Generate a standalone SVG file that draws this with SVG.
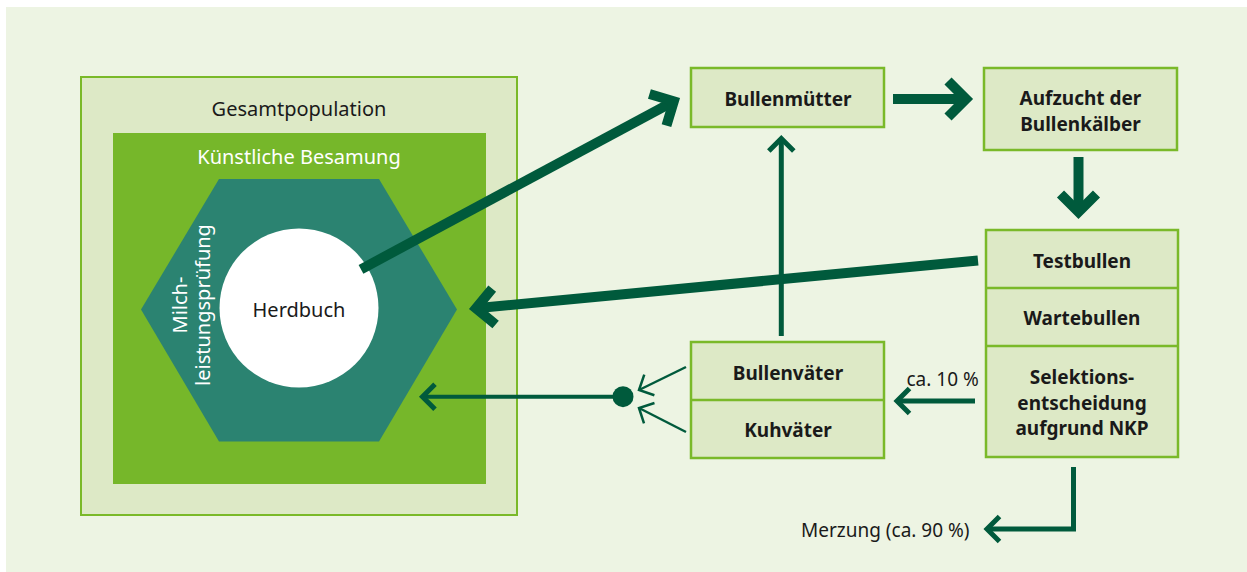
<svg xmlns="http://www.w3.org/2000/svg" width="1247" height="572" viewBox="0 0 1247 572">
  <defs>
    <style>
      .t { font-family: "Noto Sans", "Open Sans", sans-serif; fill: #1a1a1a; }
      .reg { font-size: 20px; }
      .b { font-size: 19px; font-weight: bold; text-anchor: middle; }
      .w { fill: #ffffff; }
      .box { fill: #dde9c6; stroke: #7ab929; stroke-width: 2.5; }
      .div { stroke: #7ab929; stroke-width: 2.5; fill: none; }
      .c { fill: none; stroke: #005a3c; stroke-linejoin: miter; }
      .thick { stroke-width: 10; }
      .med { stroke-width: 5; }
      .thin { stroke-width: 2.5; }
    </style>
    <marker id="ahThick" markerUnits="userSpaceOnUse" markerWidth="60" markerHeight="60" refX="0" refY="0" orient="auto" overflow="visible">
      <path d="M-18,-18 L0,0 L-18,18" fill="none" stroke="#005a3c" stroke-width="10" stroke-linejoin="miter"/>
    </marker>
    <marker id="ahMed" markerUnits="userSpaceOnUse" markerWidth="40" markerHeight="40" refX="0" refY="0" orient="auto" overflow="visible">
      <path d="M-12.5,-12.5 L0,0 L-12.5,12.5" fill="none" stroke="#005a3c" stroke-width="5" stroke-linejoin="miter"/>
    </marker>
    <marker id="ahThin" markerUnits="userSpaceOnUse" markerWidth="40" markerHeight="40" refX="0" refY="0" orient="auto" overflow="visible">
      <path d="M-11.5,-11.5 L0,0 L-11.5,11.5" fill="none" stroke="#005a3c" stroke-width="2.5" stroke-linejoin="miter"/>
    </marker>
  </defs>

  <rect x="6" y="7" width="1241" height="565" fill="#edf4e3"/>

  <g id="gesamtpopulation">
    <rect x="81" y="77" width="436" height="438" fill="#dde9c6" stroke="#7ab929" stroke-width="2"/>
    <text class="t reg" x="299" y="115.5" text-anchor="middle">Gesamtpopulation</text>
  </g>

  <g id="kuenstliche-besamung">
    <rect x="113" y="133" width="373" height="351" fill="#76b72a"/>
    <text class="t reg w" x="299" y="164" text-anchor="middle">Künstliche Besamung</text>
  </g>

  <g id="milchleistungspruefung">
    <polygon points="219,179 379,179 457,309.5 379,441.5 219,441.5 141,309.5" fill="#2b8371"/>
    <text class="t reg w" transform="translate(186.5,305) rotate(-90)" text-anchor="middle">Milch-</text>
    <text class="t reg w" transform="translate(210,305) rotate(-90)" text-anchor="middle">leistungsprüfung</text>
  </g>

  <g id="herdbuch">
    <circle cx="299" cy="308" r="79.5" fill="#ffffff"/>
    <text class="t reg" x="299" y="317" text-anchor="middle">Herdbuch</text>
  </g>

  <g id="bullenmuetter">
    <rect class="box" x="691" y="68" width="193" height="59"/>
    <text class="t b" x="788" y="105.5">Bullenmütter</text>
  </g>

  <g id="aufzucht">
    <rect class="box" x="984" y="68" width="193" height="82"/>
    <text class="t b" x="1080.5" y="104.5">Aufzucht der</text>
    <text class="t b" x="1080.5" y="131">Bullenkälber</text>
  </g>

  <g id="pruefbullen">
    <rect class="box" x="986" y="230" width="192" height="227"/>
    <line class="div" x1="986" y1="288" x2="1178" y2="288"/>
    <line class="div" x1="986" y1="346" x2="1178" y2="346"/>
    <text class="t b" x="1082" y="267.5">Testbullen</text>
    <text class="t b" x="1082" y="324.5">Wartebullen</text>
    <text class="t b" x="1082" y="384">Selektions-</text>
    <text class="t b" x="1082" y="409.5">entscheidung</text>
    <text class="t b" x="1082" y="435">aufgrund NKP</text>
  </g>

  <g id="vaeter">
    <rect class="box" x="691" y="342" width="193" height="116"/>
    <line class="div" x1="691" y1="400" x2="884" y2="400"/>
    <text class="t b" x="788" y="380">Bullenväter</text>
    <text class="t b" x="788" y="437">Kuhväter</text>
  </g>

  <g id="labels">
    <text class="t" font-size="19" x="906.5" y="385.5">ca. 10 %</text>
    <text class="t" font-size="19" x="801" y="537">Merzung (ca. 90 %)</text>
  </g>

  <g id="connectors">
    <line class="c thick" x1="361" y1="269.3" x2="673.8" y2="101.3" marker-end="url(#ahThick)"/>
    <line class="c thick" x1="893" y1="99" x2="966" y2="99" marker-end="url(#ahThick)"/>
    <line class="c thick" x1="1078.5" y1="157" x2="1078.5" y2="212" marker-end="url(#ahThick)"/>
    <line class="c thick" x1="978" y1="260.5" x2="476" y2="308.3" marker-end="url(#ahThick)"/>
    <line class="c med" x1="781.3" y1="336" x2="781.3" y2="138.5" marker-end="url(#ahMed)"/>
    <line class="c med" x1="975" y1="401" x2="897" y2="401" marker-end="url(#ahMed)"/>
    <polyline class="c med" points="1073.5,467 1073.5,529 987,529" marker-end="url(#ahMed)"/>
    <line class="c" stroke-width="4" x1="623" y1="396.7" x2="422.5" y2="396.7" marker-end="url(#ahMed)"/>
    <circle cx="623" cy="396.7" r="10.5" fill="#005a3c"/>
    <line class="c thin" x1="686" y1="367" x2="639" y2="390" marker-end="url(#ahThin)"/>
    <line class="c thin" x1="686" y1="432" x2="639" y2="408" marker-end="url(#ahThin)"/>
  </g>
</svg>
